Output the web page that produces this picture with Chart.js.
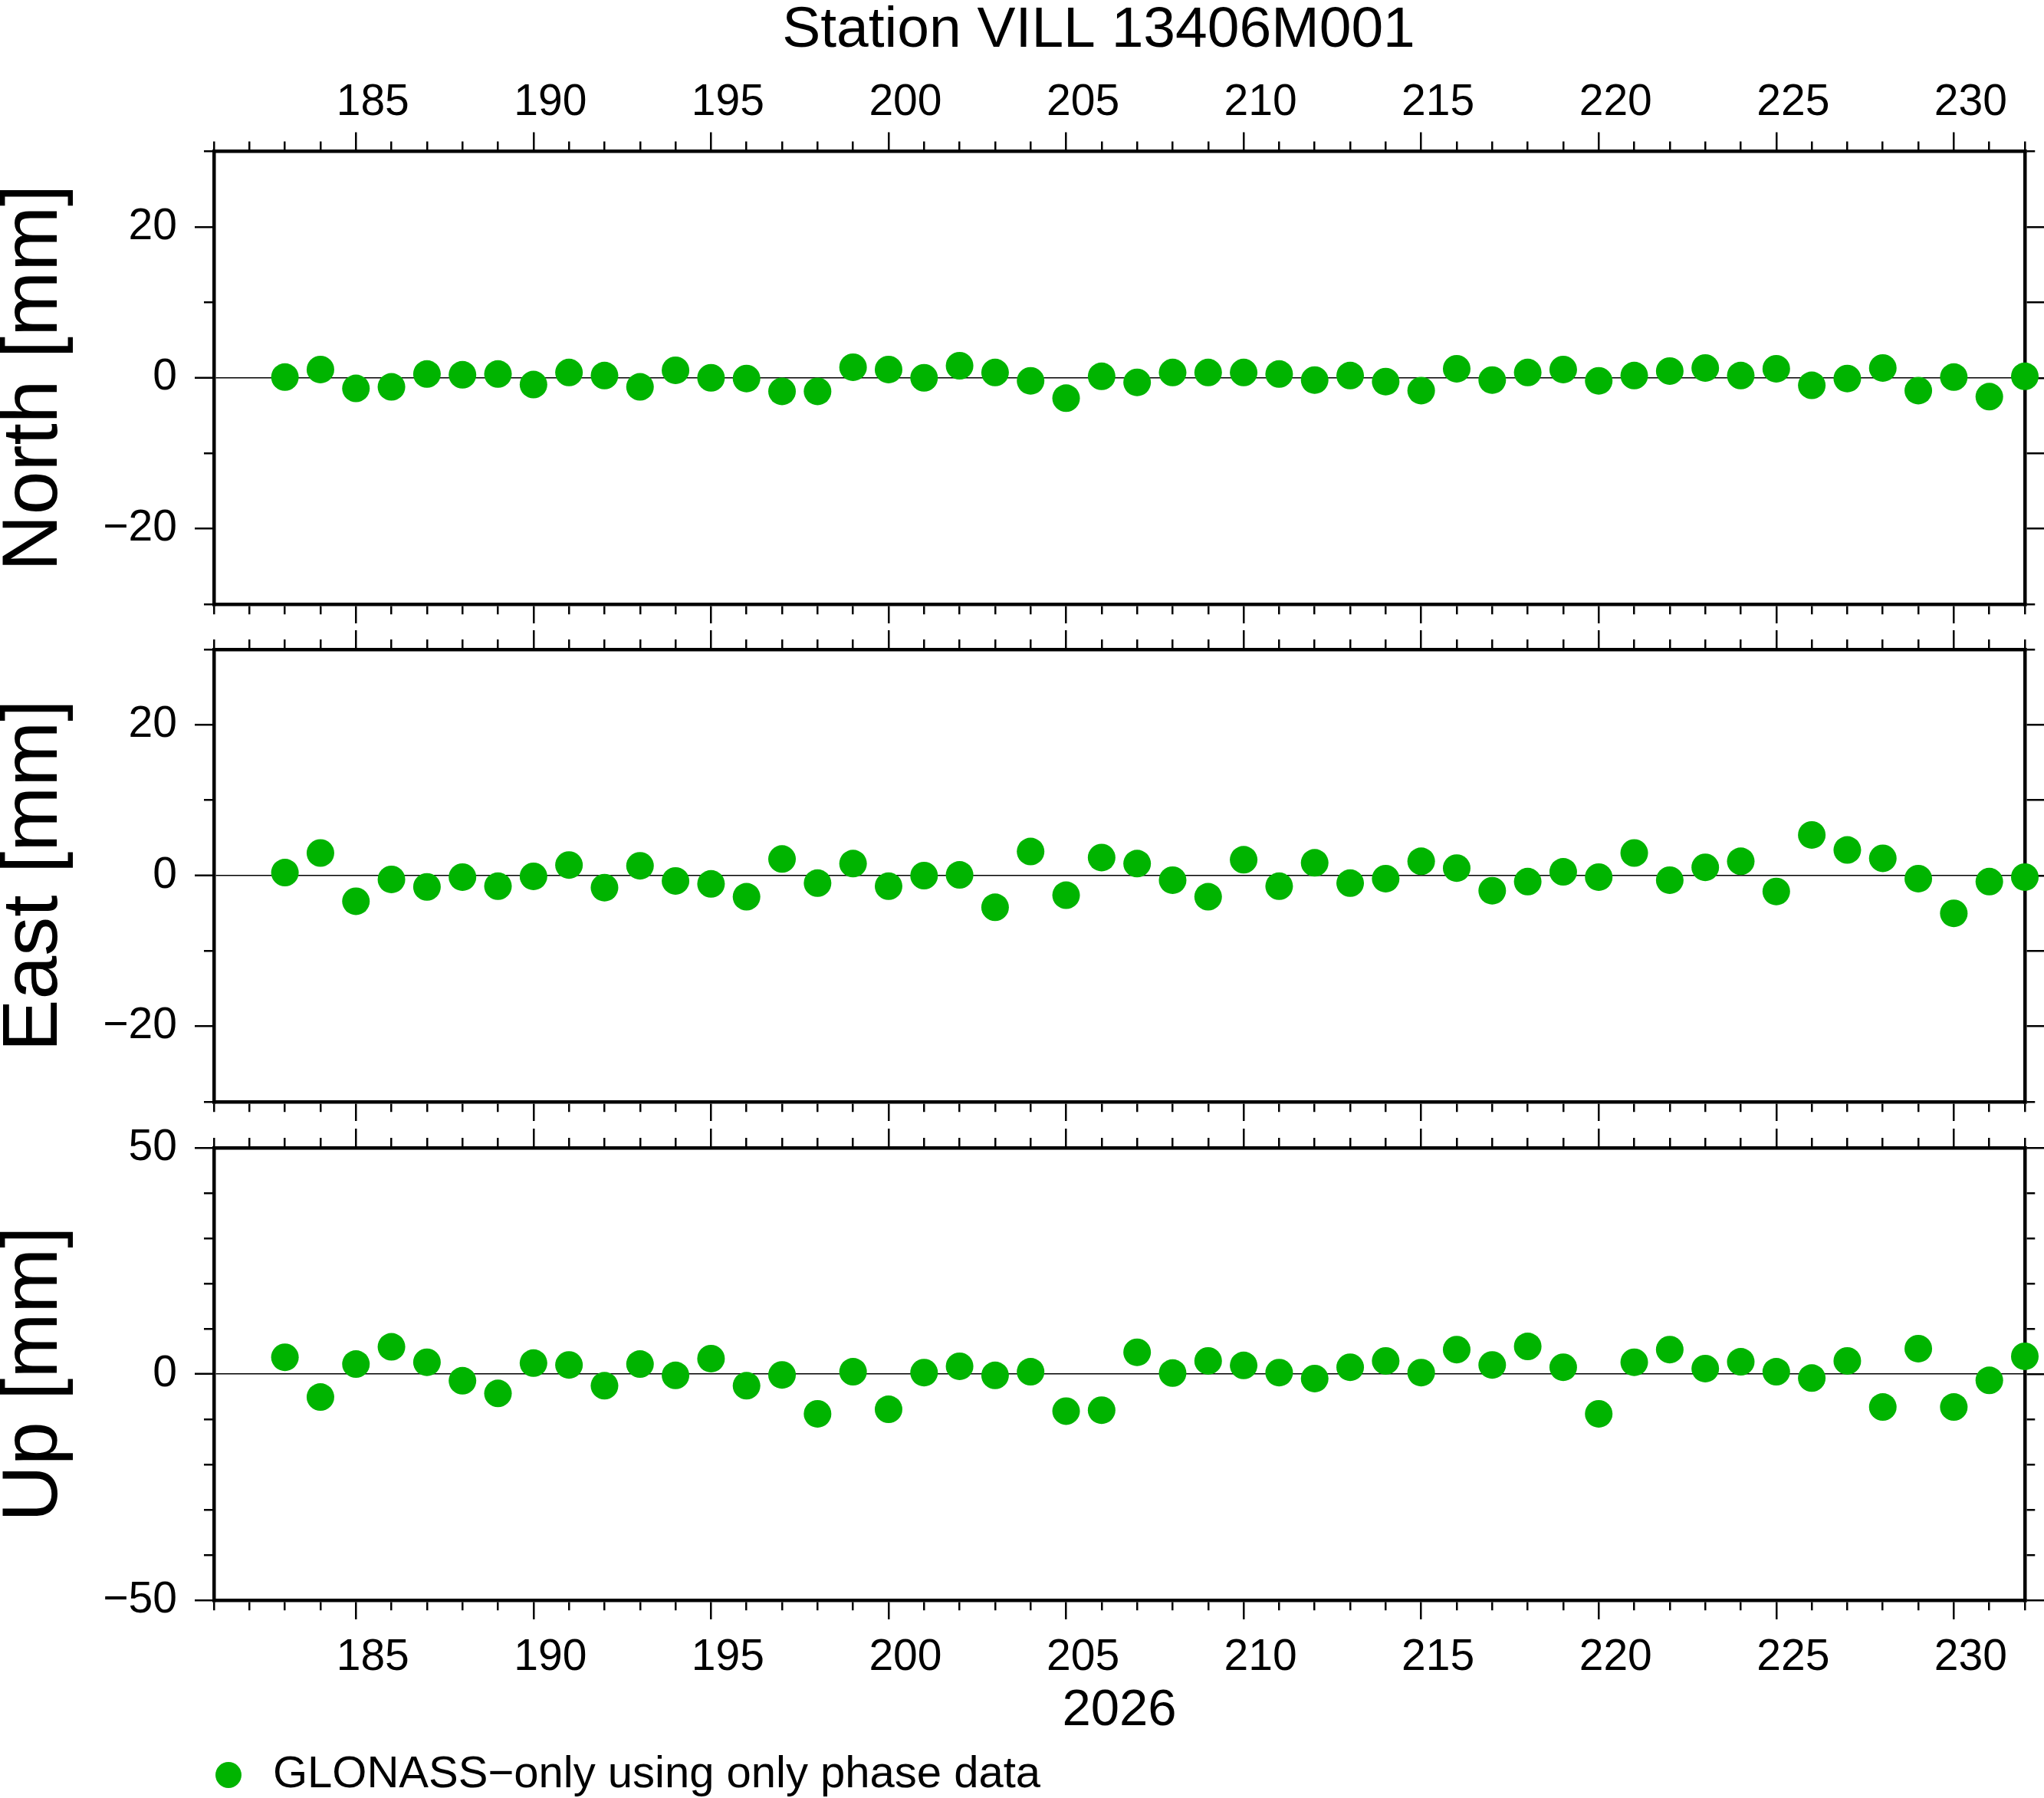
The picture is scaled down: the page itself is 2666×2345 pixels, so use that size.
<!DOCTYPE html>
<html>
<head>
<meta charset="utf-8">
<title>Station VILL 13406M001</title>
<script src="https://cdn.jsdelivr.net/npm/chart.js@4"></script>
<style>
  html, body { margin: 0; padding: 0; overflow: hidden; background: #fff; }
  #wrap { position: relative; width: 2666px; height: 2345px; overflow: hidden; background: #fff; }
  canvas { position: absolute; left: 0; }
</style>
</head>
<body>
<div id="wrap">
  <canvas id="north" width="2866" height="820" style="top:0px"></canvas>
  <canvas id="east" width="2666" height="647" style="top:820px"></canvas>
  <canvas id="up" width="2666" height="878" style="top:1467px"></canvas>
</div>
<script>
// day of year 2026
const days = [
  183, 184, 185, 186, 187, 188, 189, 190, 191, 192,
  193, 194, 195, 196, 197, 198, 199, 200, 201, 202,
  203, 204, 205, 206, 207, 208, 209, 210, 211, 212,
  213, 214, 215, 216, 217, 218, 219, 220, 221, 222,
  223, 224, 225, 226, 227, 228, 229, 230, 231, 232
];

// residuals in mm
const north = [
  0.1, 1.1, -1.4, -1.2, 0.5, 0.4, 0.5, -0.9, 0.7, 0.3,
  -1.2, 1.0, 0.0, -0.1, -1.8, -1.8, 1.4, 1.1, 0.0, 1.6,
  0.7, -0.4, -2.7, 0.2, -0.6, 0.7, 0.7, 0.7, 0.5, -0.3,
  0.3, -0.5, -1.7, 1.2, -0.3, 0.7, 1.1, -0.4, 0.3, 0.9,
  1.3, 0.3, 1.2, -1.0, -0.1, 1.3, -1.7, 0.1, -2.5, 0.2
];
const east = [
  0.4, 3.0, -3.4, -0.5, -1.5, -0.2, -1.4, -0.1, 1.4, -1.6,
  1.3, -0.7, -1.1, -2.8, 2.2, -1.0, 1.6, -1.4, 0.0, 0.1,
  -4.2, 3.2, -2.6, 2.4, 1.6, -0.6, -2.8, 2.1, -1.4, 1.7,
  -1.0, -0.4, 1.9, 1.0, -2.0, -0.8, 0.5, -0.2, 3.0, -0.6,
  1.1, 1.9, -2.1, 5.4, 3.4, 2.3, -0.4, -5.0, -0.8, -0.2
];
const up = [
  3.7, -5.1, 2.2, 6.0, 2.6, -1.5, -4.3, 2.4, 2.0, -2.6,
  2.2, -0.3, 3.4, -2.6, -0.2, -8.8, 0.5, -7.8, 0.3, 1.7,
  -0.3, 0.5, -8.2, -8.0, 4.8, 0.2, 2.9, 1.9, 0.3, -1.0,
  1.5, 2.9, 0.3, 5.4, 2.0, 6.1, 1.5, -8.8, 2.6, 5.4,
  1.2, 2.7, 0.5, -0.9, 2.9, -7.3, 5.6, -7.3, -1.4, 3.9
];

const xRange = [181, 232];
const neRange = [-30, 30];
const upRange = [-50, 50];

const titleText = "Station VILL 13406M001";
const yearLabel = "2026";
const seriesLabel = "GLONASS\u2212only using only phase data";

// styling
const GREEN = "rgb(0,180,0)";
const FRAME_W = 4.5;
const MAJOR = 25;
const MINOR = 13;
const FRAME_LEFT = 279;
const FRAME_RIGHT = 2641;

Chart.defaults.font.family = '"Liberation Sans", Arial, Helvetica, sans-serif';
Chart.defaults.color = "#000";

const minus = (v) => String(v).replace("-", "\u2212");

// keep every axis box at a fixed size so the three frames line up
function fixSize(prop, size) {
  return (scale) => {
    scale[prop] = size;
    scale.paddingLeft = 0;
    scale.paddingRight = 0;
    scale.paddingTop = 0;
    scale.paddingBottom = 0;
  };
}

// short ticks for the unannotated values; fromAxis tells where the line starts
function tickDash(isMajor, fromAxis) {
  return (ctx) => {
    if (!ctx.tick || isMajor(ctx.tick.value)) return [];
    return fromAxis ? [MINOR - FRAME_W / 2, 200] : [0, MAJOR - MINOR, 200];
  };
}

function xScale(position, size, showLabels, title) {
  return {
    type: "linear",
    position: position,
    min: xRange[0],
    max: xRange[1],
    afterFit: fixSize("height", size),
    border: { display: true, width: FRAME_W, color: "#000" },
    grid: {
      drawOnChartArea: false,
      drawTicks: true,
      tickLength: MAJOR,
      tickWidth: 2.5,
      tickColor: "#000",
      lineWidth: FRAME_W,
      color: "#000",
      tickBorderDash: tickDash((v) => v % 5 === 0, position === "bottom"),
    },
    ticks: {
      stepSize: 1,
      autoSkip: false,
      maxRotation: 0,
      minRotation: 0,
      padding: position === "bottom" ? 16 : 4,
      labelOffset: 22,
      font: { size: 57 },
      color: "#000",
      callback: (v) => (showLabels && v % 5 === 0 ? String(v) : ""),
    },
    title: title
      ? {
          display: true,
          text: title,
          color: "#000",
          font: { size: 67, lineHeight: 1.2 },
          padding: { top: 0, bottom: 14 },
        }
      : { display: false },
  };
}

function yScales(range, labelStep, rightStep, axisTitle, rightWidth) {
  const leftMajor = (v) => v % labelStep === 0;
  const rightMajor = (v) => v % rightStep === 0 && (rightStep === labelStep || (v !== range[0] && v !== range[1]));
  const isZero = (ctx) => ctx.tick && ctx.tick.value === 0;
  return {
    y: {
      type: "linear",
      position: "left",
      min: range[0],
      max: range[1],
      afterFit: fixSize("width", FRAME_LEFT),
      border: { display: true, width: FRAME_W, color: "#000" },
      grid: {
        drawOnChartArea: true,
        drawTicks: true,
        tickLength: MAJOR,
        tickWidth: 2.5,
        tickColor: "#000",
        color: (ctx) => (isZero(ctx) ? "#000" : "rgba(0,0,0,0)"),
        lineWidth: (ctx) => (isZero(ctx) ? 1.5 : FRAME_W),
        tickBorderDash: tickDash(leftMajor, false),
      },
      ticks: {
        stepSize: 10,
        autoSkip: false,
        padding: 23,
        font: { size: 57 },
        color: "#000",
        callback: (v) => (leftMajor(v) ? minus(v) : ""),
      },
      title: {
        display: true,
        text: axisTitle,
        color: "#000",
        font: { size: 102, lineHeight: 0.9 },
        padding: 0,
      },
    },
    y2: {
      type: "linear",
      position: "right",
      min: range[0],
      max: range[1],
      afterFit: fixSize("width", rightWidth),
      border: { display: true, width: FRAME_W, color: "#000" },
      grid: {
        drawOnChartArea: false,
        drawTicks: true,
        tickLength: MAJOR,
        tickWidth: 2.5,
        tickColor: "#000",
        lineWidth: FRAME_W,
        color: "#000",
        tickBorderDash: tickDash(rightMajor, true),
      },
      ticks: { stepSize: 10, autoSkip: false, callback: () => "" },
    },
  };
}

function makePanel(id, values, cfg) {
  const canvas = document.getElementById(id);
  const points = days.map((d, i) => ({ x: d, y: values[i] }));
  const ys = yScales(cfg.range, cfg.labelStep, cfg.rightStep, cfg.axisTitle, canvas.width - FRAME_RIGHT);

  return new Chart(canvas, {
    type: "scatter",
    data: {
      datasets: [
        {
          label: seriesLabel,
          data: points,
          backgroundColor: GREEN,
          pointBackgroundColor: GREEN,
          pointBorderWidth: 0,
          pointRadius: 18,
          pointHoverRadius: 18,
          clip: false,
        },
      ],
    },
    options: {
      responsive: false,
      animation: false,
      events: [],
      layout: { padding: 0, autoPadding: false },
      plugins: {
        tooltip: { enabled: false },
        title: cfg.title
          ? {
              display: true,
              text: cfg.title,
              color: "#000",
              fullSize: true,
              font: { size: 75, weight: "normal", lineHeight: 0.8 },
              padding: { top: 10, bottom: 0 },
            }
          : { display: false },
        legend: cfg.legend
          ? {
              display: true,
              position: "bottom",
              align: "start",
              fullSize: false,
              maxHeight: 59,
              // empty title only pushes the row down so it is not clipped
              title: { display: true, text: "", font: { size: 1, lineHeight: 1 }, padding: { top: 0, bottom: 9 } },
              labels: {
                usePointStyle: true,
                pointStyle: "circle",
                boxWidth: 58,
                boxHeight: 24,
                padding: -10,
                color: "#000",
                font: { size: 58 },
              },
            }
          : { display: false },
      },
      scales: {
        x: xScale("bottom", cfg.bottomH, cfg.bottomLabels, cfg.xTitle),
        x2: xScale("top", cfg.topH, cfg.topLabels, null),
        y: ys.y,
        y2: ys.y2,
      },
    },
  });
}

makePanel("north", north, {
  range: neRange, labelStep: 20, rightStep: 10, axisTitle: "North [mm]",
  title: titleText, topH: 127.5, bottomH: 32, topLabels: true, bottomLabels: false,
});

makePanel("east", east, {
  range: neRange, labelStep: 20, rightStep: 10, axisTitle: "East [mm]",
  topH: 27, bottomH: 30, topLabels: false, bottomLabels: false,
});

makePanel("up", up, {
  range: upRange, labelStep: 50, rightStep: 50, axisTitle: "Up [mm]",
  topH: 30, bottomH: 199, topLabels: false, bottomLabels: true,
  xTitle: yearLabel, legend: true,
});
</script>
</body>
</html>
